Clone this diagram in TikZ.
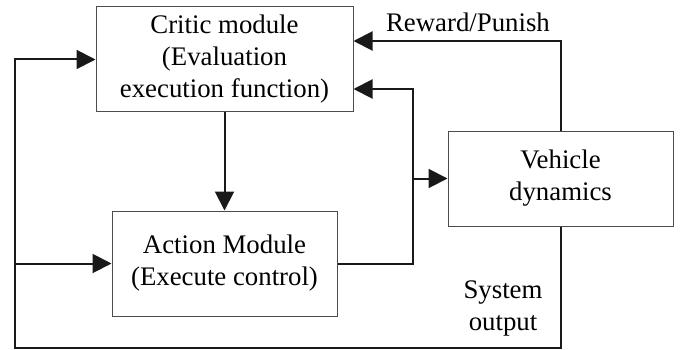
\documentclass[tikz,border=0pt]{standalone}
\usepackage{fontspec}
\setmainfont{Liberation Serif}
\usetikzlibrary{arrows.meta}
\begin{document}
\begin{tikzpicture}[x=1pt,y=-1pt,
  txt/.style={font=\fontsize{26.8}{32}\selectfont, align=center, inner sep=0pt, text=black},
  box/.style={txt, draw=black!70, line width=1pt, fill=white},
  conn/.style={line width=2pt, draw=black!90},
  arr/.style={-{Triangle[length=19pt,width=19pt]}}]
\useasboundingbox (0,0) rectangle (690,350);
\node[box, minimum width=257pt, minimum height=105pt] (critic) at (224.5,59.5) {Critic module\\(Evaluation\\execution function)};
\node[box, minimum width=225pt, minimum height=105pt] (action) at (224.5,263.5) {Action Module\\(Execute control)};
\node[box, minimum width=225pt, minimum height=95pt] (veh) at (560.5,178.5) {Vehicle\\dynamics};
\node[txt] (rp) at (468,22) {Reward/Punish};
\node[txt] (so) at (503,308) {System\\output};
\coordinate (bl) at (15,348);
\coordinate (la) at (15,263.5);
\coordinate (rw) at (560.5,41);
\coordinate (j) at (413,263.5);
\coordinate (ju) at (413,89);
\coordinate (jv) at (413,178.5);
\draw[conn,arr] (veh.south) |- (bl) |- (critic.west);
\draw[conn,arr] (la) -- (action.west);
\draw[conn,arr] (veh.north) -- (rw) -- (critic.east |- rw);
\draw[conn,arr] (action.east) -- (j) -- (ju) -- (critic.east |- ju);
\draw[conn,arr] (jv) -- (veh.west);
\draw[conn,arr] (critic.south) -- (action.north);
\end{tikzpicture}
\end{document}
